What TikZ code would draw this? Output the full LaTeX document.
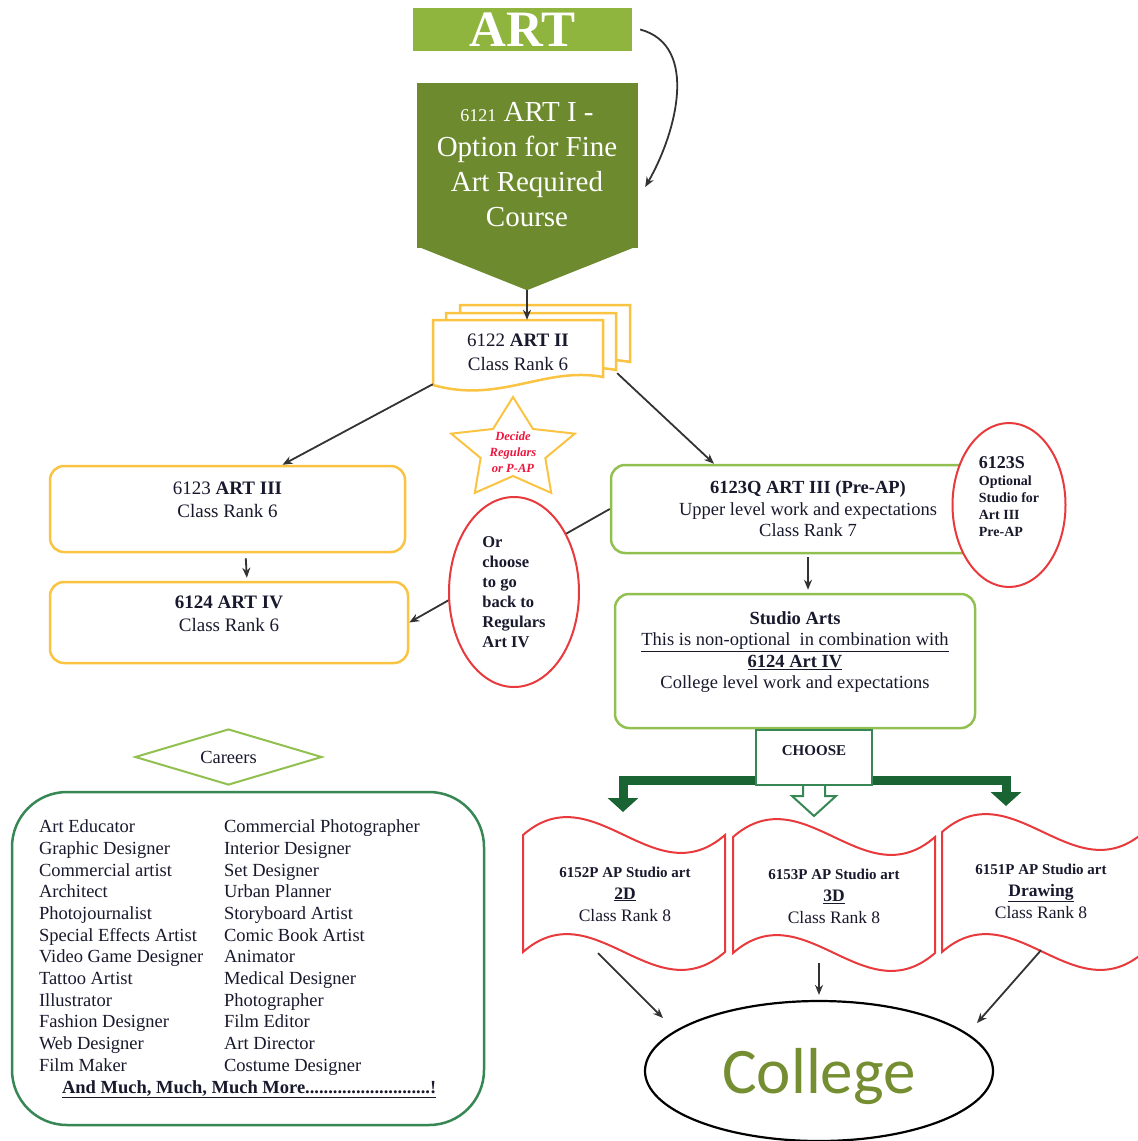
\documentclass[tikz,border=0pt]{standalone}
\usepackage{fontspec}
\setmainfont{Liberation Serif}
\newfontfamily\collegefont{Carlito}
\usetikzlibrary{shapes.geometric,arrows.meta,positioning}

\definecolor{artlight}{RGB}{143,181,63}
\definecolor{artdark}{RGB}{109,139,46}
\definecolor{yellowline}{RGB}{250,196,66}
\definecolor{greenline}{RGB}{146,192,80}
\definecolor{redline}{RGB}{232,58,60}
\definecolor{boxgreen}{RGB}{55,135,85}
\definecolor{arrowgreen}{RGB}{25,100,50}
\definecolor{collegegreen}{RGB}{118,142,50}
\definecolor{decidered}{RGB}{240,20,60}
\definecolor{ink}{RGB}{25,25,45}

\begin{document}
\begin{tikzpicture}[x=1pt, y=-1pt,
    every node/.style={text=ink},
    conn/.style={draw=black!80, line width=1.8pt, -{Stealth[length=10pt,width=8pt]}},
    yellowbox/.style={draw=yellowline, line width=2.5pt, fill=white, rounded corners=14pt,
      align=center, font=\fontsize{19}{23}\selectfont},
    greenbox/.style={draw=greenline, line width=2.5pt, fill=white, rounded corners=14pt,
      align=center, font=\fontsize{18.5}{21.5}\selectfont},
    redoval/.style={ellipse, draw=redline, line width=2pt, fill=white, align=left,
      font=\bfseries\fontsize{16.5}{20}\selectfont},
    docline/.style={draw=yellowline, line width=2.5pt, fill=white},
    waveline/.style={draw=redline, line width=2pt, fill=white},
    wavetext/.style={align=center, minimum width=200pt, minimum height=118pt,
      font=\fontsize{17.5}{22}\selectfont},
    choosearrow/.style={draw=arrowgreen, line width=9pt, -{Triangle[width=30pt,length=14pt]}}
  ]
  \clip (0,0) rectangle (1138,1141);
  \fill[white] (0,0) rectangle (1138,1141);

  % top of the chart
  \node[fill=artlight, minimum width=219pt, minimum height=43pt, inner sep=0pt,
    text=white, font=\bfseries\fontsize{51}{51}\selectfont] (art) at (522.5,29.5) {ART};
  \node[fill=artdark, draw=artdark, minimum width=220pt, minimum height=164pt, align=center,
    text=white, font=\fontsize{29}{35}\selectfont] (art1) at (527,165)
    {{\fontsize{18}{35}\selectfont 6121} ART I -\\Option for Fine\\Art Required\\Course};
  \coordinate (art1tip) at ([yshift=-43pt]art1.south);
  \fill[artdark] ([yshift=1pt]art1.south west) -- (art1tip) -- ([yshift=1pt]art1.south east) -- cycle;
  \draw[conn] ([xshift=8pt]art.east) to[out=-15, in=60] ([shift={(8pt,-22pt)}]art1.east);

  % art II, three pages
  \foreach \dx/\dy in {27/-15, 13/-7, 0/0}
    \draw[docline, shift={(\dx,\dy)}] (433,320) -- (603,320) -- (603,377)
      .. controls (545,366) and (500,404) .. (433,385) -- cycle;
  \node[minimum width=170pt, minimum height=64pt, align=center,
    font=\fontsize{19}{24}\selectfont] (art2) at (518,352) {6122 \textbf{ART II}\\Class Rank 6};
  \draw[conn] (art1tip) -- (art1tip |- art2.north);

  % regular path
  \node[yellowbox, minimum width=355pt, minimum height=86pt, text depth=18pt] (art3) at (227.5,509)
    {6123 \textbf{ART III}\\Class Rank 6};
  \node[yellowbox, minimum width=358pt, minimum height=81pt, text depth=18pt] (art4) at (229,622.5)
    {\textbf{6124 ART IV}\\Class Rank 6};

  % pre-AP path
  \node[greenbox, minimum width=394pt, minimum height=88pt] (preap) at (808,509)
    {\textbf{6123Q ART III (Pre-AP)}\\Upper level work and expectations\\Class Rank 7};
  \node[greenbox, minimum width=360pt, minimum height=134pt, text depth=22pt] (studio) at (795,661)
    {\textbf{Studio Arts}\\\underline{This is non-optional\ \ in combination with}\\
     \textbf{\underline{6124 Art IV}}\\College level work and expectations};
  \node[redoval, minimum width=113pt, minimum height=164pt, text depth=16pt,
    font=\bfseries\fontsize{14}{17}\selectfont] (studioopt) at (1009,505)
    {{\fontsize{18}{20}\selectfont 6123S}\\Optional\\Studio for\\Art III\\Pre-AP};

  \draw[conn] (art2.south west) -- ([xshift=55pt]art3.north);
  \draw[conn] ([shift={(14pt,11pt)}]art2.south east) -- ([xshift=-94pt]preap.north);
  \draw[conn, shorten <=5pt, shorten >=3pt] ([xshift=18pt]art3.south) -- ([xshift=18pt]art4.north);
  \draw[conn, shorten <=3pt, shorten >=3pt] (preap.south) -- (preap.south |- studio.north);
  \draw[conn] (preap.west) -- (art4.east);
  \node[redoval, minimum width=130pt, minimum height=190pt] (backreg) at (514,592)
    {Or\\choose\\to go\\back to\\Regulars\\Art IV};

  % decide star
  \draw[docline, line width=2pt, shift={(513,450)}] (-90:65 and 53)
    \foreach \ang in {0,72,...,288} { -- (-54+\ang:34 and 26) -- (-18+\ang:65 and 53) } -- cycle;
  \node[align=center, text=decidered, font=\bfseries\itshape\fontsize{12.5}{16}\selectfont]
    (decide) at (513,452) {Decide\\Regulars\\or P-AP};

  % choose and the AP courses
  \foreach \wx/\wt/\wb in {523/835/952, 733/837/953, 942/832/952}
    \draw[waveline] (\wx,\wt) .. controls +(71,-62) and +(-71,62) .. ++(202,0)
      -- ++(0,\wb-\wt) .. controls +(-71,62) and +(71,-62) .. ++(-202,0) -- cycle;
  \node[wavetext] (w2d) at (625,894)
    {{\bfseries\fontsize{15}{22}\selectfont 6152P AP Studio art}\\\textbf{\underline{2D}}\\Class Rank 8};
  \node[wavetext] (w3d) at (834,896)
    {{\bfseries\fontsize{15}{22}\selectfont 6153P AP Studio art}\\\textbf{\underline{3D}}\\Class Rank 8};
  \node[wavetext] (wdraw) at (1041,891)
    {{\bfseries\fontsize{15}{22}\selectfont 6151P AP Studio art}\\\textbf{\underline{Drawing}}\\Class Rank 8};

  \node[draw=boxgreen, line width=2pt, fill=white, minimum width=116pt, minimum height=55pt,
    text depth=14pt, font=\bfseries\fontsize{15}{18}\selectfont] (choose) at (814,757.5) {CHOOSE};
  \coordinate (in2d) at (623,812);
  \coordinate (indraw) at (1006,806);
  \draw[choosearrow] ([yshift=6pt]choose.south west) -| (in2d);
  \draw[choosearrow] ([yshift=6pt]choose.south east) -| (indraw);
  \draw[draw=boxgreen, line width=2pt, fill=white] ([xshift=-11pt]choose.south) -- ++(0,10)
    -- ++(-11,0) -- ++(22,20) -- ++(22,-20) -- ++(-11,0) -- ++(0,-10);

  % college
  \node[ellipse, draw=black, line width=2.2pt, minimum width=348pt, minimum height=140pt,
    text=collegegreen, text depth=0pt, font=\collegefont\fontsize{65}{65}\selectfont]
    (college) at (819,1071) {College};
  \draw[conn] ([xshift=-27pt]w2d.south) -- ([shift={(-156pt,53pt)}]college.center);
  \draw[conn, shorten <=8pt, shorten >=5pt] (w3d.south -| college.north) -- (college.north);
  \draw[conn] (wdraw.south) -- ([shift={(158pt,48pt)}]college.center);

  % careers
  \node[diamond, aspect=3.3, draw=greenline, line width=2pt, minimum width=187pt,
    minimum height=56pt, inner sep=0pt, font=\fontsize{18.5}{22}\selectfont] (careerslabel)
    at (228.5,757) {Careers};
  \node[draw=boxgreen, line width=2.5pt, rounded corners=55pt, minimum width=472pt,
    minimum height=333pt, inner sep=0pt, font=\fontsize{18.5}{21.7}\selectfont] (careers)
    at (248,958.5) {%
    \begin{tabular}{@{}p{185pt}@{}p{233pt}@{}}
      Art Educator & Commercial Photographer\\
      Graphic Designer & Interior Designer\\
      Commercial artist & Set Designer\\
      Architect & Urban Planner\\
      Photojournalist & Storyboard Artist\\
      Special Effects Artist & Comic Book Artist\\
      Video Game Designer & Animator\\
      Tattoo Artist & Medical Designer\\
      Illustrator & Photographer\\
      Fashion Designer & Film Editor\\
      Web Designer & Art Director\\
      Film Maker & Costume Designer\\
      \multicolumn{2}{@{\hspace{23pt}}l@{}}{\textbf{\underline{And Much, Much, Much More...........................!}}}
    \end{tabular}};
\end{tikzpicture}
\end{document}
